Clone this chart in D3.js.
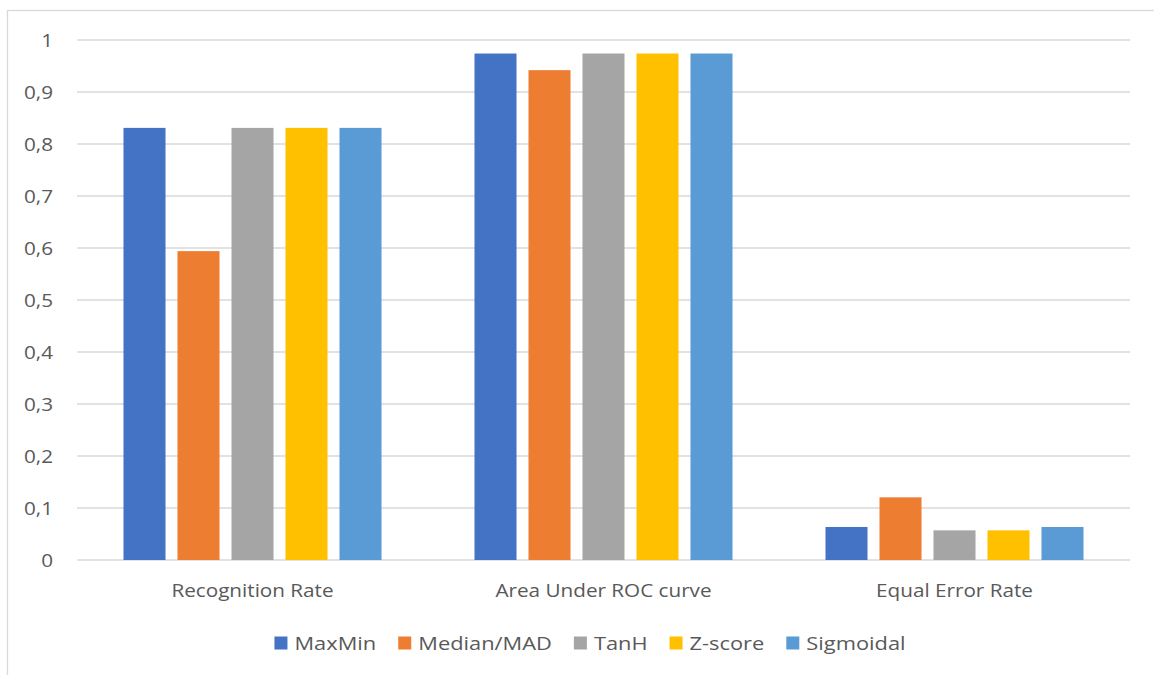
<!DOCTYPE html>
<html>
<head>
<meta charset="utf-8">
<script src="https://cdn.jsdelivr.net/npm/d3@7"></script>
<style>
  html, body { margin: 0; padding: 0; background: #fff; }
  svg { display: block; }
  text { font-family: "Open Sans", "Liberation Sans", sans-serif; fill: #595959; }
</style>
</head>
<body>
<svg id="chart" width="1154" height="675"></svg>
<script>
// Metrics per normalization method
const categories = ["Recognition Rate", "Area Under ROC curve", "Equal Error Rate"];
const seriesNames = ["MaxMin", "Median/MAD", "TanH", "Z-score", "Sigmoidal"];
const seriesColors = ["#4472C4", "#ED7D31", "#A5A5A5", "#FFC000", "#5B9BD5"];
const maxMinValues    = [0.831, 0.974, 0.0635];
const medianMadValues = [0.594, 0.942, 0.1205];
const tanhValues      = [0.831, 0.974, 0.057];
const zScoreValues    = [0.831, 0.974, 0.057];
const sigmoidalValues = [0.831, 0.974, 0.0635];
const yTicks = [0, 0.1, 0.2, 0.3, 0.4, 0.5, 0.6, 0.7, 0.8, 0.9, 1];
const yTickLabels = ["0", "0,1", "0,2", "0,3", "0,4", "0,5", "0,6", "0,7", "0,8", "0,9", "1"];

const seriesValues = [maxMinValues, medianMadValues, tanhValues, zScoreValues, sigmoidalValues];

const svg = d3.select("#chart");
const textStretch = 1.15;   // glyphs are drawn slightly wide
const fontSize = 18;
const legendFontSize = 19;

// chart frame
svg.append("rect")
  .attr("x", 7.5).attr("y", 10.5)
  .attr("width", 1170).attr("height", 700)
  .attr("fill", "#fff")
  .attr("stroke", "#D9D9D9").attr("stroke-width", 1.3);

const x = d3.scaleBand().domain(categories).range([77, 1130]).paddingInner(0).paddingOuter(0);
const xs = d3.scaleBand().domain(seriesNames).range([0, x.bandwidth()])
  .paddingInner(0.222).paddingOuter(0.861);
const y = d3.scaleLinear().domain([0, 1]).range([560, 40]);

// gridlines
svg.append("g").selectAll("line").data(yTicks).join("line")
  .attr("x1", 77).attr("x2", 1130)
  .attr("y1", d => y(d)).attr("y2", d => y(d))
  .attr("stroke", "#D9D9D9").attr("stroke-width", 1.3);

function stretchedText(sel, tx, ty, anchor) {
  sel.attr("transform", (d, i) => `translate(${tx(d, i)},${ty(d, i)}) scale(${textStretch},1)`)
    .attr("text-anchor", anchor)
    .attr("font-size", fontSize);
}

// y tick labels
svg.append("g").selectAll("text").data(yTicks).join("text")
  .text((d, i) => yTickLabels[i])
  .call(stretchedText, () => 53, d => y(d) + 6.5, "end");

// bars
const groups = svg.append("g").selectAll("g").data(seriesNames).join("g")
  .attr("fill", (d, i) => seriesColors[i]);
groups.selectAll("rect")
  .data((s, si) => categories.map((c, ci) => ({ c, s, v: seriesValues[si][ci] })))
  .join("rect")
  .attr("x", d => x(d.c) + xs(d.s))
  .attr("width", xs.bandwidth())
  .attr("y", d => y(d.v))
  .attr("height", d => y(0) - y(d.v));

// category labels
svg.append("g").selectAll("text").data(categories).join("text")
  .text(d => d)
  .call(stretchedText, d => x(d) + x.bandwidth() / 2, () => 597, "middle");

// legend
const legend = svg.append("g");
const items = legend.selectAll("g").data(seriesNames).join("g");
items.append("rect").attr("width", 13).attr("height", 13).attr("y", -13.5)
  .attr("fill", (d, i) => seriesColors[i]);
items.append("text").text(d => d)
  .attr("transform", `translate(20,0) scale(${textStretch},1)`)
  .attr("font-size", legendFontSize);
let cursor = 0;
const widths = [];
items.each(function () {
  widths.push(20 + this.querySelector("text").getComputedTextLength() * textStretch);
});
items.attr("transform", (d, i) => {
  const px = cursor;
  cursor += widths[i] + 22;
  return `translate(${px},0)`;
});
const total = cursor - 22;
legend.attr("transform", `translate(${590 - total / 2},650)`);
</script>
</body>
</html>
